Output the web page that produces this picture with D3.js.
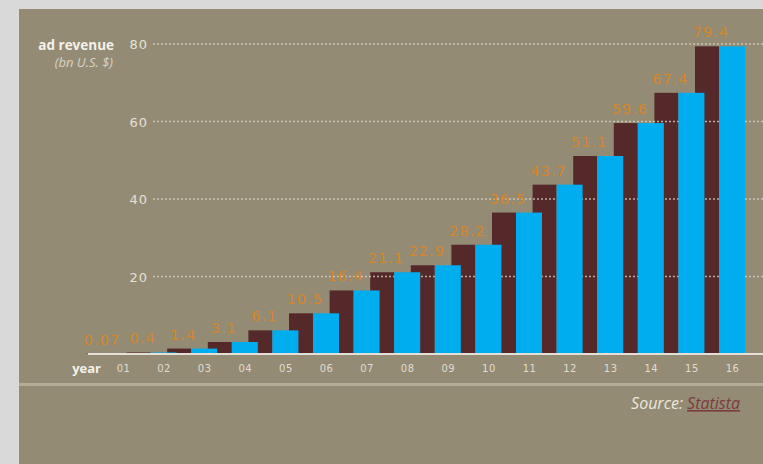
<!DOCTYPE html>
<html><head><meta charset="utf-8">
<script src="https://cdn.jsdelivr.net/npm/d3@7"></script>
<style>
html,body{margin:0;padding:0;background:#d9d9d9;}
svg{display:block;}
</style></head>
<body>
<script>
const years = ["01","02","03","04","05","06","07","08","09","10","11","12","13","14","15","16"];
const revenue = [0.07,0.4,1.4,3.1,6.1,10.5,16.4,21.1,22.9,28.2,36.5,43.7,51.1,59.6,67.4,79.4];
const valueLabels = ["0.07","0.4","1.4","3.1","6.1","10.5","16.4","21.1","22.9","28.2","36.5","43.7","51.1","59.6","67.4","79.4"];
const yTicks = [20,40,60,80];

const W = 763, H = 464;
const svg = d3.select("body").append("svg").attr("width", W).attr("height", H);

svg.append("rect").attr("x",0).attr("y",0).attr("width",W).attr("height",H).attr("fill","#d9d9d9");
svg.append("rect").attr("x",19).attr("y",9).attr("width",W-19).attr("height",H-9).attr("fill","#938b74");

const x = d3.scalePoint().domain(years).range([123, 732]);
const y = d3.scaleLinear().domain([0,80]).range([354,44]);

const font = "'DejaVu Sans', sans-serif";

// brown bars (back)
svg.append("g").selectAll("rect").data(revenue).join("rect")
  .attr("x",(d,i)=>x(years[i])-37).attr("width",24)
  .attr("y",d=>y(d)).attr("height",d=>y(0)-y(d))
  .attr("fill","#55292a");

// gridlines
svg.append("g").selectAll("line").data(yTicks).join("line")
  .attr("x1",153).attr("x2",W)
  .attr("y1",d=>y(d)).attr("y2",d=>y(d))
  .attr("stroke","#dcd8cb").attr("stroke-opacity",0.75).attr("stroke-width",1.5).attr("stroke-dasharray","2,2");

// blue bars (front)
svg.append("g").selectAll("rect").data(revenue).join("rect")
  .attr("x",(d,i)=>x(years[i])-13).attr("width",26)
  .attr("y",d=>y(d)).attr("height",d=>y(0)-y(d))
  .attr("fill","#00adef");

// y axis labels
const yAxis = d3.axisLeft(y).tickValues(yTicks).tickSize(0).tickPadding(0);
const gy = svg.append("g").attr("transform","translate(148,0)").call(yAxis);
gy.select(".domain").remove();
gy.selectAll("text").attr("font-family",font).attr("font-size",13).attr("letter-spacing",1).attr("fill","#e6e2d6").attr("dy","0.35em");

svg.append("text").attr("x",114).attr("y",50).attr("text-anchor","end")
  .attr("font-family","'Open Sans', sans-serif").attr("font-weight","bold").attr("font-size",13.5).attr("fill","#f4f1ea").text("ad revenue");
svg.append("text").attr("x",113).attr("y",67).attr("text-anchor","end")
  .attr("font-family","'Open Sans', sans-serif").attr("font-style","italic").attr("font-size",13).attr("fill","#d9d4c6").text("(bn U.S. $)");

// baseline
svg.append("line").attr("x1",88).attr("x2",W).attr("y1",y(0)).attr("y2",y(0))
  .attr("stroke","#e4e0d6").attr("stroke-width",2);

// value labels
svg.append("g").selectAll("text").data(revenue).join("text")
  .attr("x",(d,i)=>x(years[i])-21).attr("y",d=>Math.min(y(d)-9, 352))
  .attr("text-anchor","middle").attr("font-family",font).attr("font-size",14.5).attr("letter-spacing",1)
  .attr("fill","#d5862a").text((d,i)=>valueLabels[i]);

// x axis labels
const xAxis = d3.axisBottom(x).tickSize(0).tickPadding(0);
const gx = svg.append("g").attr("transform","translate(0,368)").call(xAxis);
gx.select(".domain").remove();
gx.selectAll("text").attr("font-family",font).attr("font-size",10).attr("letter-spacing",0.5).attr("fill","#e0dcd0").attr("dy","0.35em");

svg.append("text").attr("x",101).attr("y",373).attr("text-anchor","end")
  .attr("font-family","'Open Sans', sans-serif").attr("font-weight","bold").attr("font-size",13).attr("fill","#f4f1ea").text("year");

// separator
svg.append("rect").attr("x",19).attr("y",383).attr("width",W-19).attr("height",3).attr("fill","#b3ac97");

// source
const src = svg.append("text").attr("x",740).attr("y",409).attr("text-anchor","end")
  .attr("font-family","'Open Sans', sans-serif").attr("font-style","italic").attr("font-size",16);
src.append("tspan").attr("fill","#ece8dc").text("Source: ");
src.append("tspan").attr("fill","#7b3b3f").attr("text-decoration","underline").text("Statista");
</script>
</body></html>
